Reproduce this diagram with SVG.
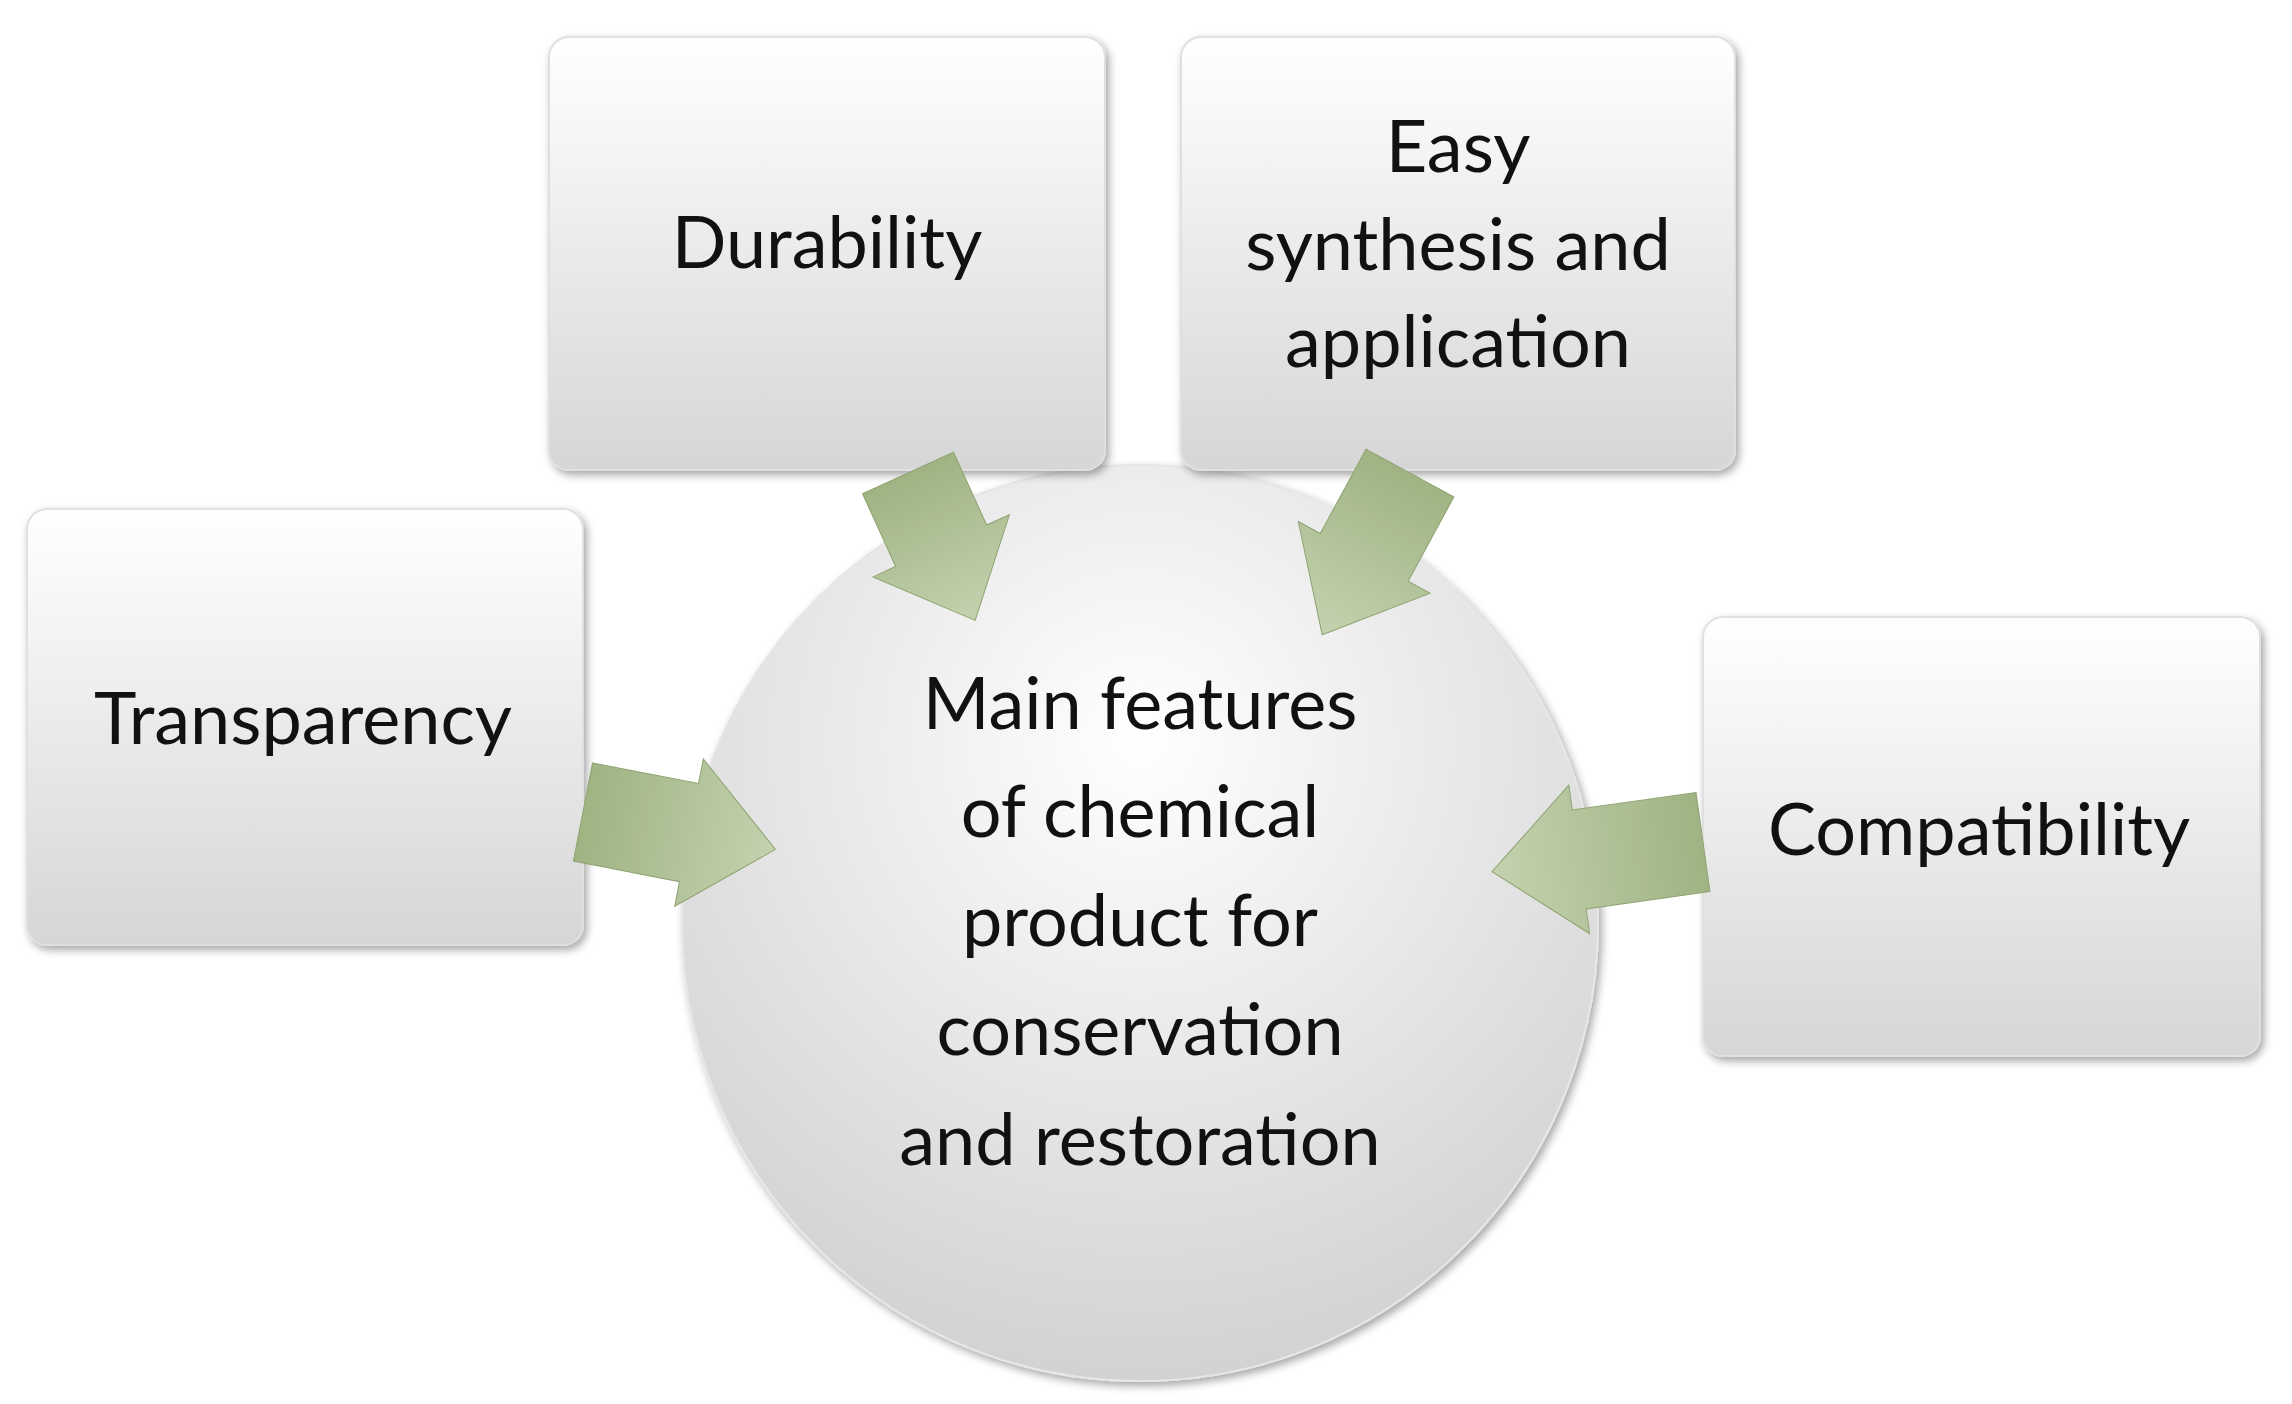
<svg xmlns="http://www.w3.org/2000/svg" width="2292" height="1404" viewBox="0 0 2292 1404">
<defs>
<linearGradient id="g" x1="0" y1="0" x2="0" y2="1"><stop offset="0" stop-color="#ffffff"/><stop offset="1" stop-color="#d6d6d6"/></linearGradient>
<radialGradient id="c" cx="0.5" cy="0.3" r="0.7"><stop offset="0" stop-color="#ffffff"/><stop offset="1" stop-color="#d2d2d2"/></radialGradient>
<linearGradient id="a" x1="0" y1="0" x2="1" y2="0"><stop offset="0" stop-color="#9fb383"/><stop offset="1" stop-color="#c4d2af"/></linearGradient>
<filter id="s" x="-10%" y="-10%" width="125%" height="125%"><feDropShadow dx="3" dy="4" stdDeviation="4" flood-color="#000" flood-opacity="0.35"/></filter>
</defs>
<style>
.b{fill:url(#g);stroke:#e0e0e0;stroke-width:2;filter:url(#s)}
text{font-family:Lato,"Open Sans",sans-serif;font-size:72px;fill:#111;text-anchor:middle}
.ar{fill:url(#a);stroke:#8fa371;stroke-width:1}
</style>
<rect width="2292" height="1404" fill="#fff"/>
<g id="circle"><circle cx="1140" cy="923" r="458" fill="url(#c)" stroke="#e6e6e6" stroke-width="2" filter="url(#s)"/></g>
<g id="durability"><rect class="b" x="549" y="37" width="556" height="433" rx="20"/><text x="827" y="268">Durability</text></g>
<g id="easy"><rect class="b" x="1181" y="37" width="554" height="433" rx="20"/><text x="1458" y="172">Easy</text><text x="1458" y="270">synthesis and</text><text x="1458" y="367">application</text></g>
<g id="transparency"><rect class="b" x="27" y="509" width="556" height="436" rx="20"/><text x="303" y="744">Transparency</text></g>
<g id="compatibility"><rect class="b" x="1703" y="617" width="557" height="439" rx="20"/><text x="1979" y="855">Compatibility</text></g>
<g id="connectors">
<polygon class="ar" transform="translate(583,812) rotate(11)" points="0,-50 108,-50 108,-75 196,0 108,75 108,50 0,50"/>
<polygon class="ar" transform="translate(908,473) rotate(65.5)" points="0,-50 80,-50 80,-75 162,0 80,75 80,50 0,50"/>
<polygon class="ar" transform="translate(1410,473) rotate(118.5)" points="0,-50 96,-50 96,-75 184,0 96,75 96,50 0,50"/>
<polygon class="ar" transform="translate(1703,842) rotate(172)" points="0,-50 125,-50 125,-75 213,0 125,75 125,50 0,50"/>
</g>
<g id="labels">
<text x="1140" y="729">Main features</text>
<text x="1140" y="837">of chemical</text>
<text x="1140" y="946">product for</text>
<text x="1140" y="1055">conservation</text>
<text x="1140" y="1165">and restoration</text>
</g>
</svg>
